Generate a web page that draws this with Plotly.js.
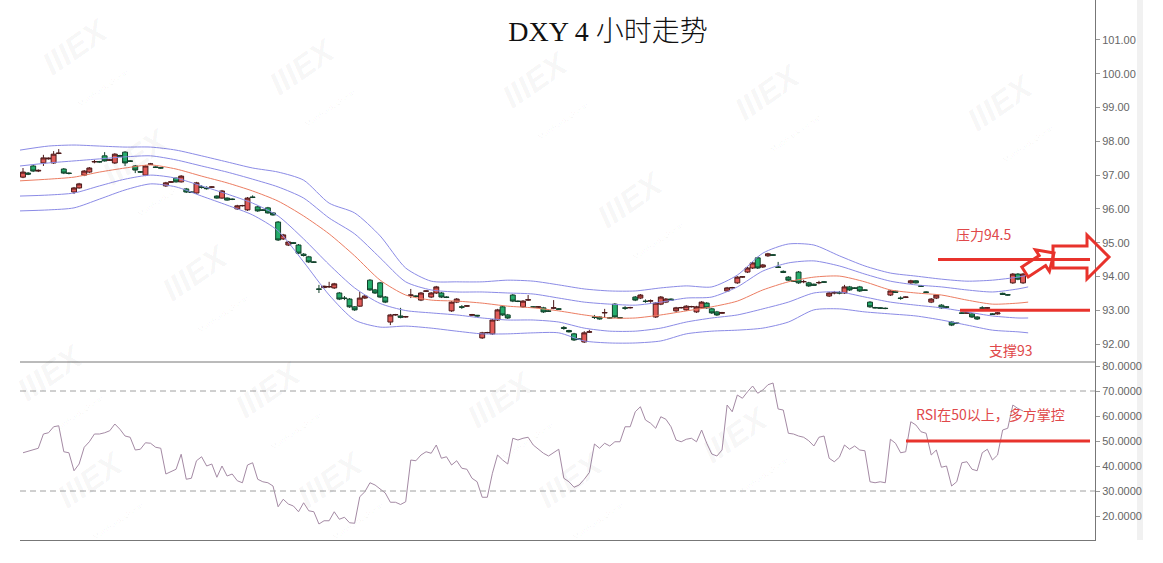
<!DOCTYPE html>
<html><head><meta charset="utf-8">
<script src="https://cdn.plot.ly/plotly-3.0.1.min.js"></script>
<style>html,body{margin:0;padding:0;background:#fff;}#chart{width:1163px;height:563px;}</style>
</head><body><div id="chart"></div>
<script>
// ---------- DATA ----------
const openP = [96.94,97.06,97.27,97.12,97.36,97.48,97.36,97.64,97.18,97.06, 96.50,96.62,97.00,97.09,97.39,97.40,97.57,97.44,97.36,97.58, 97.68,97.42,97.27,97.10,97.00,97.32,97.24,97.22,96.68,96.79, 96.91,96.80,96.59,96.50,96.47,96.65,96.62,96.64,96.38,96.32, 96.32,96.29,96.00,96.09,95.97,96.35,96.06,95.97,96.03,95.88, 95.61,95.11,94.93,95.00,94.93,94.66,94.58,94.43,93.63,93.67, 93.69,93.66,93.51,93.36,93.33,93.10,93.12,93.36,93.89,93.60, 93.81,93.39,92.65,92.86,92.83,92.80,93.44,93.42,93.30,93.56, 93.39,93.51,93.51,93.39,92.98,93.24,93.10,93.12,92.85,92.85, 92.18,92.33,92.30,92.71,93.10,92.86,93.45,93.27,93.10,93.30, 93.10,93.09,93.07,92.98,93.06,93.04,92.49,92.40,92.30,92.15, 92.06,92.35,92.80,92.80,92.92,92.78,93.18,92.78,93.07,93.07, 93.39,93.36,93.27,93.27,92.80,93.18,93.24,93.33,92.98,93.07, 93.01,93.10,92.95,93.07,93.21,93.04,92.95,92.91,93.57,93.66, 93.81,93.98,94.13,94.25,94.55,94.28,94.61,94.64,94.28,94.15, 93.98,93.87,94.13,93.84,93.81,93.77,93.81,93.84,93.42,93.51, 93.52,93.51,93.69,93.66,93.69,93.60,93.24,93.08,93.07,93.06, 93.45,93.56,93.36,93.38,93.81,93.87,93.72,93.54,93.24,93.36, 93.15,93.10,92.65,92.62,92.92,92.91,92.89,92.80,93.07,93.06, 92.89,92.89,93.50,93.46,93.81,94.07,93.81];
const highP = [97.21,97.09,97.30,97.17,97.60,97.52,97.71,97.77,97.21,97.08, 96.65,96.77,97.15,97.24,97.45,97.42,97.68,97.47,97.65,97.60, 97.71,97.44,97.30,97.12,97.30,97.36,97.26,97.23,96.80,96.82, 96.93,97.00,96.62,96.52,96.80,96.70,96.67,96.67,96.40,96.56, 96.34,96.31,96.12,96.12,96.35,96.40,96.09,95.99,96.06,95.90, 95.64,95.26,95.05,95.02,94.96,94.69,94.61,94.45,93.75,93.73, 93.84,93.81,93.54,93.42,93.36,93.12,93.54,93.45,93.92,93.63, 93.84,93.42,92.89,92.89,93.07,92.83,93.63,93.44,93.54,93.59, 93.54,93.72,93.54,93.41,93.27,93.36,93.15,93.15,92.89,92.86, 92.36,92.36,92.74,93.04,93.13,92.89,93.48,93.29,93.30,93.45, 93.12,93.12,93.10,93.00,93.30,93.06,92.53,92.42,92.33,92.17, 92.38,92.42,92.86,92.82,93.04,92.80,93.21,92.80,93.12,93.10, 93.42,93.48,93.32,93.32,93.24,93.42,93.36,93.35,93.10,93.10, 93.15,93.13,93.13,93.27,93.24,93.07,92.98,92.95,93.69,93.69, 94.01,94.01,94.28,94.43,94.58,94.37,94.70,94.66,94.43,94.18, 94.01,93.89,94.16,93.90,93.84,93.79,93.87,93.86,93.54,93.57, 93.57,93.75,93.72,93.68,93.72,93.62,93.27,93.10,93.09,93.08, 93.60,93.58,93.41,93.41,93.90,93.89,93.74,93.56,93.36,93.48, 93.18,93.12,92.68,92.64,92.94,92.94,92.92,92.82,93.12,93.09, 92.91,92.94,93.52,93.48,94.10,94.10,94.10];
const lowP = [96.91,97.00,97.09,97.09,97.27,97.46,97.33,97.62,97.03,97.02, 96.44,96.60,96.97,97.06,97.35,97.37,97.40,97.42,97.33,97.54, 97.27,97.39,97.06,97.07,96.97,97.30,97.21,97.19,96.65,96.77, 96.78,96.78,96.47,96.47,96.45,96.60,96.57,96.62,96.30,96.30, 96.24,96.26,95.97,96.07,95.94,96.32,95.91,95.94,95.86,95.80, 95.05,95.08,94.90,94.96,94.66,94.59,94.40,94.40,93.51,93.65, 93.66,93.63,93.30,93.30,93.07,92.98,93.10,93.33,93.57,93.48, 93.36,93.21,92.56,92.84,92.76,92.78,93.36,93.39,93.27,93.54, 93.36,93.48,93.36,93.36,92.95,93.21,93.04,93.10,92.83,92.81, 92.15,92.31,92.27,92.68,92.83,92.74,93.24,93.24,93.07,93.28, 93.07,93.07,92.92,92.95,93.03,93.01,92.42,92.34,92.09,92.12, 92.03,92.33,92.74,92.72,92.77,92.75,92.77,92.75,93.01,93.05, 93.27,93.33,93.22,93.22,92.77,93.15,93.21,93.28,92.95,93.05, 92.98,93.08,92.92,93.04,93.04,92.89,92.83,92.89,93.54,93.64, 93.78,93.96,94.10,94.22,94.22,94.25,94.58,94.61,94.25,94.10, 93.86,93.84,93.78,93.80,93.69,93.72,93.77,93.81,93.39,93.47, 93.47,93.48,93.57,93.63,93.54,93.57,93.07,93.05,93.04,93.03, 93.42,93.51,93.31,93.36,93.78,93.79,93.69,93.51,93.21,93.33, 93.04,93.07,92.53,92.59,92.89,92.89,92.77,92.71,93.02,93.04, 92.86,92.87,93.45,93.43,93.78,93.89,93.78];
const closeP = [97.09,97.03,97.12,97.14,97.51,97.50,97.62,97.65,97.06,97.05, 96.62,96.74,97.12,97.21,97.40,97.39,97.42,97.45,97.62,97.56, 97.36,97.41,97.15,97.09,97.27,97.33,97.23,97.21,96.77,96.80, 96.80,96.97,96.50,96.49,96.77,96.64,96.60,96.65,96.32,96.53, 96.26,96.28,96.09,96.10,96.32,96.34,95.94,95.96,95.88,95.82, 95.08,95.23,95.02,94.98,94.69,94.62,94.43,94.42,93.62,93.71, 93.70,93.78,93.33,93.35,93.10,93.01,93.36,93.42,93.60,93.51, 93.39,93.24,92.86,92.87,92.79,92.81,93.45,93.41,93.51,93.57, 93.51,93.69,93.39,93.38,93.24,93.33,93.09,93.13,92.87,92.83, 92.33,92.34,92.71,93.01,92.86,92.77,93.27,93.26,93.27,93.31, 93.09,93.10,92.95,92.97,93.07,93.03,92.46,92.36,92.12,92.14, 92.33,92.36,92.79,92.74,92.93,92.77,92.80,92.77,93.06,93.08, 93.30,93.45,93.26,93.28,93.21,93.39,93.33,93.30,93.07,93.08, 93.12,93.11,93.10,93.24,93.07,92.92,92.86,92.93,93.66,93.67, 93.98,93.99,94.25,94.40,94.25,94.34,94.67,94.63,94.27,94.12, 93.89,93.86,93.81,93.85,93.72,93.74,93.82,93.83,93.51,93.52, 93.51,93.69,93.60,93.65,93.57,93.59,93.10,93.07,93.06,93.05, 93.57,93.53,93.35,93.39,93.87,93.81,93.71,93.53,93.33,93.45, 93.07,93.09,92.56,92.61,92.91,92.92,92.80,92.74,93.06,93.07, 92.88,92.92,93.47,93.45,94.07,93.92,94.07];

// Bollinger band lines, sampled along the bar index
const bandIdx  = [-0.6,5,10,15,20,25,30,35,40,45,50,55,60,65,70,75,80,85,90,95,100,105,110,115,120,125,130,135,140,145,150,155,160,165,170,175,180,185,190,195,197];
const bbUpper2 = [97.74,97.86,97.89,97.86,97.83,97.83,97.74,97.57,97.39,97.21,97.09,96.85,96.17,95.88,95.20,94.25,93.86,93.84,93.84,93.89,93.86,93.75,93.63,93.57,93.57,93.66,93.72,93.69,94.04,94.69,94.96,94.93,94.61,94.31,94.10,94.01,93.92,93.86,93.89,93.98,94.04];
const bbUpper1 = [97.27,97.36,97.42,97.48,97.54,97.57,97.45,97.27,97.09,96.88,96.65,96.32,95.73,95.26,94.55,93.84,93.60,93.54,93.54,93.51,93.48,93.36,93.24,93.18,93.15,93.24,93.36,93.39,93.69,94.16,94.40,94.46,94.31,94.07,93.86,93.75,93.69,93.60,93.54,93.63,93.69];
const bbMid    = [96.83,96.88,96.94,97.09,97.21,97.30,97.18,96.97,96.77,96.53,96.23,95.79,95.26,94.61,93.89,93.45,93.30,93.27,93.21,93.12,93.07,92.98,92.86,92.77,92.77,92.86,92.98,93.10,93.27,93.60,93.84,93.98,94.01,93.84,93.60,93.51,93.45,93.30,93.18,93.21,93.24];
const bbLower1 = [96.38,96.41,96.47,96.68,96.88,97.00,96.91,96.68,96.44,96.17,95.79,95.11,94.35,93.66,93.20,92.99,92.92,92.86,92.77,92.71,92.71,92.65,92.47,92.38,92.38,92.47,92.65,92.77,92.86,93.04,93.24,93.51,93.54,93.39,93.24,93.15,93.07,92.95,92.83,92.77,92.77];
const bbLower2 = [95.94,95.97,96.03,96.29,96.56,96.74,96.65,96.38,96.11,95.82,95.35,94.43,93.45,92.71,92.50,92.53,92.47,92.38,92.30,92.30,92.33,92.33,92.09,92.03,92.03,92.09,92.30,92.38,92.41,92.47,92.65,93.01,93.04,92.95,92.89,92.83,92.71,92.56,92.41,92.36,92.33];

const rsiVal = [45.3,46.0,46.7,47.1,52.8,53.3,55.7,56.1,45.7,45.3, 38.1,40.8,47.5,49.7,52.8,52.8,53.3,54.1,56.8,54.7, 52.0,51.5,46.4,46.7,49.3,49.1,47.5,47.1,36.8,37.7, 38.7,44.7,34.7,35.1,42.1,43.7,40.0,40.8,35.5,40.0, 36.0,36.8,34.1,33.3,40.4,41.3,34.7,33.7,33.3,32.0, 23.7,26.7,24.8,24.0,21.7,25.3,22.1,21.7,16.8,18.1, 18.1,21.7,18.7,19.5,17.3,17.1,27.7,29.7,33.3,32.4, 30.8,29.2,25.5,25.5,24.6,25.7,42.4,42.1,44.4,45.7, 45.1,48.4,43.1,43.7,40.4,42.1,39.1,38.7,35.1,33.7, 27.5,27.5,37.1,44.4,42.4,40.8,51.1,50.4,51.1,51.5, 48.4,46.7,45.1,44.0,45.3,46.7,35.1,33.7,31.5,32.4, 34.7,37.4,48.8,47.1,49.1,48.0,49.7,49.7,55.7,55.7, 61.7,63.7,58.4,57.1,55.1,59.7,58.7,55.7,50.4,49.7, 50.7,51.1,49.7,54.4,49.1,44.8,44.0,46.4,64.4,61.7, 68.4,67.1,69.7,72.0,69.1,70.4,72.5,73.2,62.8,62.4, 53.1,52.8,52.0,51.5,50.1,48.0,51.5,52.0,43.1,41.7, 43.5,48.4,46.7,48.0,46.4,46.1,33.7,33.3,33.7,33.3, 50.7,49.1,45.3,45.7,57.7,56.4,53.7,53.1,44.4,46.4, 39.5,40.0,32.0,33.7,41.3,41.7,38.7,38.1,45.3,46.7, 42.4,44.4,54.4,55.1,64.4,63.0,62.0];

const priceTicks = [92,93,94,95,96,97,98,99,100,101];
const rsiTicks = [20,30,40,50,60,70,80];
const rsiGuides = [70,30];
const resistance = 94.5, support = 93, rsiMid = 50;
const titleText = 'DXY 4 小时走势';
const noteResist = '压力94.5', noteSupport = '支撑93', noteRsi = 'RSI在50以上，多方掌控';

// ---------- LAYOUT HELPERS ----------
const L = 20, PW = 1075, PH = 540;
const px = x => (x - L) / PW;          // pixel x -> paper x
const py = y => (PH - y) / PH;         // pixel y -> paper y
const pathFrom = pts => 'M' + pts.map(p => px(p[0]).toFixed(5) + ',' + py(p[1]).toFixed(5)).join(' L') + ' Z';

const idx = openP.map((_, i) => i);
const blue = '#8b8be6', mid = '#ec7d62';
const band = (y, c) => ({type:'scatter', mode:'lines', x: bandIdx, y: y, xaxis:'x', yaxis:'y',
  line:{color:c, width:1, shape:'spline', smoothing:0.7}, hoverinfo:'skip'});

const traces = [
  band(bbUpper2, blue), band(bbUpper1, blue), band(bbMid, mid), band(bbLower1, blue), band(bbLower2, blue),
  {type:'candlestick', x: idx, open: openP, high: highP, low: lowP, close: closeP, xaxis:'x', yaxis:'y',
   increasing:{line:{color:'#4d1a1a', width:1}, fillcolor:'#e25b58'},
   decreasing:{line:{color:'#11402a', width:1}, fillcolor:'#25ad6c'}, whiskerwidth:0},
  {type:'scatter', mode:'lines', x: idx, y: rsiVal, xaxis:'x', yaxis:'y2', line:{color:'#a48aa4', width:1}, hoverinfo:'skip'}
];

const red = '#e8332c';
const arrowH = [[1053,246],[1087,246],[1087,235],[1109,257],[1087,279],[1087,268],[1053,268]];
const arrowS = [[1021.8,267],[1039.2,255.6],[1035.4,249.8],[1054,253],[1049.4,271.4],[1045.6,265.6],[1028.2,277]];

const shapes = [
  {type:'rect', xref:'paper', yref:'paper', x0:px(1137), x1:px(1143), y0:0, y1:1, fillcolor:'#f1f1f1', line:{width:0}, layer:'below'},
  {type:'line', xref:'paper', yref:'paper', x0:0, x1:1, y0:py(362), y1:py(362), line:{color:'#777', width:1}},
  ...rsiGuides.map(v => ({type:'line', xref:'paper', yref:'y2', x0:0, x1:1, y0:v, y1:v, line:{color:'#a0a0a0', width:1, dash:'6px,4px'}})),
  {type:'line', xref:'paper', yref:'y', x0:px(938), x1:px(1090), y0:resistance, y1:resistance, line:{color:red, width:3}},
  {type:'line', xref:'paper', yref:'y', x0:px(960), x1:px(1090), y0:support, y1:support, line:{color:red, width:3}},
  {type:'line', xref:'paper', yref:'y2', x0:px(906), x1:px(1090), y0:rsiMid, y1:rsiMid, line:{color:red, width:3}},
  {type:'path', xref:'paper', yref:'paper', path:pathFrom(arrowS), line:{color:red, width:3}, fillcolor:'rgba(0,0,0,0)'},
  {type:'path', xref:'paper', yref:'paper', path:pathFrom(arrowH), line:{color:red, width:3}, fillcolor:'rgba(0,0,0,0)'}
];

const wm = [[85,62],[312,82],[545,95],[778,108],[1010,118],[145,172],[205,288],[640,215],[60,388],[278,405],[510,415],[745,450],[100,495],[340,495],[580,495]];
const note = (x, y, t) => ({xref:'paper', yref:'paper', x:px(x), y:py(y), xanchor:'center', yanchor:'middle', showarrow:false,
  text:t, font:{family:'Noto Sans CJK SC', size:14, color:'#e0484a'}});
const annotations = [
  ...wm.map(p => ({xref:'paper', yref:'paper', x:px(p[0]), y:py(p[1]), xanchor:'center', yanchor:'middle', showarrow:false, textangle:-35,
    text:'<b><i>IIIEX</i></b><br><span style="font-size:8px">MultiBank Group</span>',
    font:{family:'Liberation Sans, Arial', size:32, color:'rgba(0,0,0,0.045)'}})),
  note(983, 234, noteResist),
  note(1011, 350, noteSupport),
  note(990, 414, noteRsi)
];

const axisFont = {family:'Liberation Sans, Arial, sans-serif', size:11, color:'#666'};
const layout = {
  width:1163, height:563, margin:{l:L, r:1163-L-PW, t:0, b:563-PH},
  paper_bgcolor:'#fff', plot_bgcolor:'#fff', showlegend:false, boxgap:0.04, boxgroupgap:0,
  title:{text:titleText, x:608/1163, xanchor:'center', y:1-31/563, yanchor:'middle',
         font:{family:'Liberation Serif, Noto Sans CJK SC, serif', size:28, color:'#111', weight:300}},
  xaxis:{range:[-0.588, 210.1], anchor:'y2', showticklabels:false, ticks:'', showgrid:false, zeroline:false,
         showline:true, linecolor:'#777', linewidth:1, rangeslider:{visible:false}, fixedrange:true},
  yaxis:{domain:[178/540, 1], range:[91.467, 102.184], side:'right', anchor:'x', showgrid:false, zeroline:false,
         showline:true, linecolor:'#777', ticks:'outside', ticklen:4, tickcolor:'#999',
         tickvals:priceTicks, tickformat:'.2f', tickfont:axisFont},
  yaxis2:{domain:[0, 178/540], range:[10.4, 81.6], side:'right', anchor:'x', showgrid:false, zeroline:false,
         showline:true, linecolor:'#777', ticks:'outside', ticklen:4, tickcolor:'#999',
         tickvals:rsiTicks, tickformat:'.4f', tickfont:axisFont},
  shapes: shapes, annotations: annotations
};
Plotly.newPlot('chart', traces, layout, {displayModeBar:false, staticPlot:true});
</script></body></html>
